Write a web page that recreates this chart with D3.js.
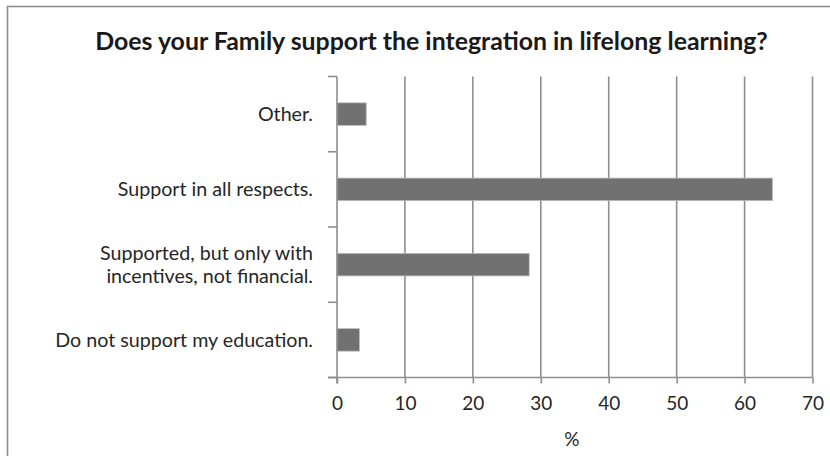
<!DOCTYPE html>
<html>
<head>
<meta charset="utf-8">
<script src="https://cdn.jsdelivr.net/npm/d3@7/dist/d3.min.js"></script>
<style>
  html, body { margin: 0; padding: 0; background: #fff; }
  svg { display: block; }
  text { font-family: Lato, "Open Sans", sans-serif; fill: #262626; }
</style>
</head>
<body>
<svg id="chart" width="830" height="456"></svg>
<script>
// Survey answers, listed top to bottom as shown
const categories = [
  "Other.",
  "Support in all respects.",
  "Supported, but only with\nincentives, not financial.",
  "Do not support my education."
];
const percentValues = [4.3, 64.1, 28.3, 3.3];
const xTicks = [0, 10, 20, 30, 40, 50, 60, 70];
const chartTitle = "Does your Family support the integration in lifelong learning?";
const xAxisTitle = "%";

const svg = d3.select("#chart");
const W = 830, H = 456;
const plot = { left: 337, right: 812.5, top: 76.5, bottom: 377.5 };
const gridColor = "#8e8e8e";

// Pick a font size so that a sample string spans the wanted width
function fitSize(sample, width, weight) {
  const probe = svg.append("text").attr("font-size", 20)
    .attr("font-weight", weight || "normal").text(sample);
  const w = probe.node().getComputedTextLength();
  probe.remove();
  return 20 * width / w;
}

// Frame of the chart area
svg.append("rect")
  .attr("x", 7.5).attr("y", 6.5)
  .attr("width", W + 20).attr("height", H + 20)
  .attr("fill", "#fff")
  .attr("stroke", gridColor).attr("stroke-width", 1.6);

const titleSize = fitSize(chartTitle, 673, "bold");
svg.append("text")
  .attr("x", 431.5).attr("y", 50)
  .attr("text-anchor", "middle")
  .attr("font-size", titleSize).attr("font-weight", "bold")
  .style("fill", "#1a1a1a")
  .text(chartTitle);

const x = d3.scaleLinear().domain([0, 70]).range([plot.left, plot.right]);
const y = d3.scaleBand().domain(categories).range([plot.top, plot.bottom]).padding(0);

// Vertical gridlines
svg.append("g").selectAll("line")
  .data(xTicks.filter(d => d > 0))
  .join("line")
  .attr("x1", d => x(d)).attr("x2", d => x(d))
  .attr("y1", plot.top).attr("y2", plot.bottom)
  .attr("stroke", gridColor).attr("stroke-width", 1.6);

// Bars
const barH = y.step() * 0.3;
svg.append("g").selectAll("rect")
  .data(categories.map((c, i) => ({ c, v: percentValues[i] })))
  .join("rect")
  .attr("x", x(0))
  .attr("y", d => y(d.c) + (y.step() - barH) / 2)
  .attr("width", d => x(d.v) - x(0))
  .attr("height", barH)
  .attr("fill", "#717171")
  .attr("stroke", "#bdbdbd").attr("stroke-width", 0.8);

// X axis (bottom) with outward ticks
const xAxis = d3.axisBottom(x).tickValues(xTicks).tickSize(6).tickSizeOuter(0).tickPadding(13);
const gx = svg.append("g").attr("transform", `translate(0,${plot.bottom})`).call(xAxis);
gx.select(".domain").attr("stroke", gridColor).attr("stroke-width", 1.6)
  .attr("d", `M${plot.left - 9},0H${plot.right}`);
gx.selectAll(".tick line").attr("stroke", gridColor).attr("stroke-width", 1.6);
gx.selectAll(".tick text")
  .attr("font-size", 19).attr("font-family", null).style("fill", "#262626");

// Y axis with category boundary ticks
const gy = svg.append("g");
gy.append("line")
  .attr("x1", plot.left).attr("x2", plot.left)
  .attr("y1", plot.top).attr("y2", plot.bottom + 6)
  .attr("stroke", gridColor).attr("stroke-width", 1.6);
const bounds = categories.map(c => y(c)).concat([plot.bottom]);
gy.selectAll("line.cat")
  .data(bounds)
  .join("line").attr("class", "cat")
  .attr("x1", plot.left - 9).attr("x2", plot.left)
  .attr("y1", d => d).attr("y2", d => d)
  .attr("stroke", gridColor).attr("stroke-width", 1.6);

// Category labels, right aligned, multi-line where needed
const labelSize = fitSize("Do not support my education.", 258);
const lineH = 23;
categories.forEach(c => {
  const lines = c.split("\n");
  const cy = y(c) + y.step() / 2;
  const t = svg.append("text")
    .attr("text-anchor", "end")
    .attr("font-size", labelSize);
  lines.forEach((ln, i) => {
    t.append("tspan")
      .attr("x", 313)
      .attr("y", cy + (i - (lines.length - 1) / 2) * lineH)
      .attr("dy", "0.35em")
      .text(ln);
  });
});

svg.append("text")
  .attr("x", (plot.left + plot.right) / 2 - 3)
  .attr("y", 446)
  .attr("text-anchor", "middle")
  .attr("font-size", 19)
  .text(xAxisTitle);
</script>
</body>
</html>
